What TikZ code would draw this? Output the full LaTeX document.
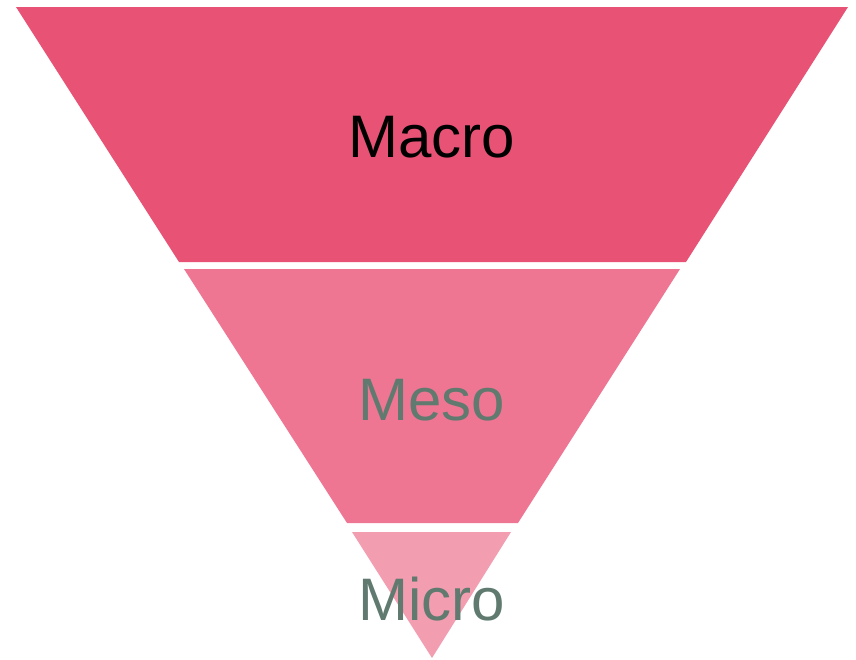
\documentclass[tikz,border=0pt]{standalone}
\usepackage{fontspec}
\setmainfont{Liberation Sans}
\definecolor{bandA}{RGB}{232,82,117}
\definecolor{bandB}{RGB}{239,118,146}
\definecolor{bandC}{RGB}{242,157,176}
\definecolor{labgrey}{RGB}{96,122,112}
\begin{document}
\begin{tikzpicture}[x=1pt,y=-1pt,
  lab/.style={anchor=base,inner sep=0pt,font=\fontsize{60}{62}\selectfont}]
\useasboundingbox (0,0) rectangle (856,659);
\fill[bandA] (16,7) -- (848,7) -- (686,262) -- (179,262) -- cycle;
\fill[bandB] (184,269) -- (680,269) -- (518,523) -- (347,523) -- cycle;
\fill[bandC] (352,532) -- (511,532) -- (432,658) -- cycle;
\node[lab,text=black] (macro) at (432,157) {Macro};
\node[lab,text=labgrey] (meso) at (432,420) {Meso};
\node[lab,text=labgrey] (micro) at (432,620) {Micro};
\end{tikzpicture}
\end{document}
